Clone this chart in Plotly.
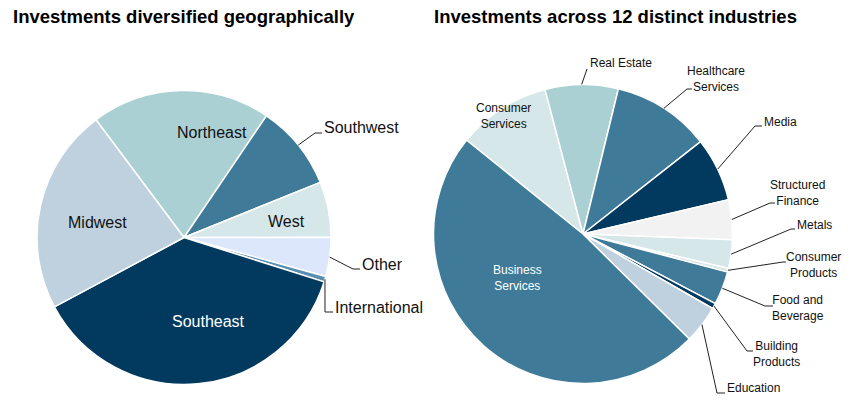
import math
import plotly.graph_objects as go

# ---------------- data ----------------
titles = ["Investments diversified geographically",
          "Investments across 12 distinct industries"]

# listed clockwise
geo_labels = ["Northeast", "Southwest", "West", "Other", "International",
              "Southeast", "Midwest"]
geo_values = [19.7, 9.4, 6.1, 4.3, 0.6, 37.3, 22.6]

ind_labels = ["Consumer Services", "Real Estate", "Healthcare Services",
              "Media", "Structured Finance", "Metals", "Consumer Products",
              "Food and Beverage", "Building Products", "Education",
              "Business Services"]
ind_values = [10.1, 7.9, 10.6, 6.9, 4.3, 3.1, 0.4, 3.6, 0.6, 4.1, 48.4]

# ---------------- styles ----------------
W, H = 852, 412
FONT = "Arial, Liberation Sans, sans-serif"
NAVY = "#023a5f"
BLUE = "#3f7a99"
TEAL = "#aad0d4"
PALE = "#d5e7e9"
GREYBLUE = "#bfd1de"
LAV = "#dde7fb"
MIDBLUE = "#5b8fb2"
GREY = "#f2f2f2"

geo_colors = [TEAL, BLUE, PALE, LAV, MIDBLUE, NAVY, GREYBLUE]
ind_colors = [PALE, TEAL, BLUE, NAVY, GREY, PALE, PALE, BLUE, NAVY,
              GREYBLUE, BLUE]

# pie geometry in pixels: center x, center y, radius, start angle (deg, math)
geo_geom = dict(cx=184, cy=237.5, r=147, start=126.8)
ind_geom = dict(cx=583, cy=234, r=149.5, start=141.1)

display = {
    "Healthcare Services": "Healthcare<br>Services",
    "Consumer Services": "Consumer<br>Services",
    "Business Services": "Business<br>Services",
    "Structured Finance": "Structured<br>Finance",
    "Consumer Products": "Consumer<br>Products",
    "Food and Beverage": "Food and<br>Beverage",
    "Building Products": "Building<br>Products",
}

# label styles: text position (px), anchor, colour, leader elbow/end (px)
geo_label_style = {
    "Northeast": dict(xy=(212, 132), xa="center", color="#111"),
    "Midwest": dict(xy=(97, 222), xa="center", color="#111"),
    "West": dict(xy=(286, 221), xa="center", color="#111"),
    "Southeast": dict(xy=(208, 321), xa="center", color="#ffffff"),
    "Southwest": dict(xy=(322, 128), xa="left", color="#111",
                      elbow=(315, 133), end=(322, 133)),
    "Other": dict(xy=(360, 264), xa="left", color="#111",
                  elbow=(353, 269), end=(360, 269)),
    "International": dict(xy=(333, 307), xa="left", color="#111",
                          elbow=(325, 312), end=(333, 312)),
}
ind_label_style = {
    "Business Services": dict(xy=(517, 278), xa="center", color="#ffffff"),
    "Consumer Services": dict(xy=(503, 116), xa="center", color="#111"),
    "Real Estate": dict(xy=(588, 63), xa="left", color="#111",
                        elbow=(587, 69), end=(587, 69)),
    "Healthcare Services": dict(xy=(716, 79), xa="center", color="#111",
                                elbow=(687, 89), end=(692, 89)),
    "Media": dict(xy=(762, 122), xa="left", color="#111",
                  elbow=(755, 126), end=(762, 126)),
    "Structured Finance": dict(xy=(797, 193), xa="center", color="#111",
                               elbow=(770, 203), end=(775, 203)),
    "Metals": dict(xy=(795, 225), xa="left", color="#111",
                   elbow=(791, 229), end=(795, 229)),
    "Consumer Products": dict(xy=(813, 265), xa="center", color="#111",
                              elbow=(783, 262), end=(786, 262)),
    "Food and Beverage": dict(xy=(798, 308), xa="center", color="#111",
                              elbow=(765, 306), end=(773, 306)),
    "Building Products": dict(xy=(776, 354), xa="center", color="#111",
                              elbow=(747, 351), end=(753, 351)),
    "Education": dict(xy=(725, 388), xa="left", color="#111",
                      elbow=(717, 393), end=(725, 393)),
}


def px(x):
    return x / W


def py(y):
    return 1 - y / H


def domain(g):
    return dict(x=[px(g["cx"] - g["r"]), px(g["cx"] + g["r"])],
                y=[py(g["cy"] + g["r"]), py(g["cy"] - g["r"])])


def pie(labels, values, colors, g):
    return go.Pie(labels=labels, values=values, sort=False,
                  direction="clockwise", rotation=90 - g["start"],
                  marker=dict(colors=colors, line=dict(color="white", width=1.5)),
                  textinfo="none", hoverinfo="label+value", showlegend=False,
                  domain=domain(g))


fig = go.Figure()
fig.add_trace(pie(geo_labels, geo_values, geo_colors, geo_geom))
fig.add_trace(pie(ind_labels, ind_values, ind_colors, ind_geom))

annotations = []
shapes = []


def add_labels(labels, values, g, styles, size):
    total = sum(values)
    cum = 0.0
    for lab, v in zip(labels, values):
        mid = g["start"] - 360.0 * (cum + v / 2.0) / total
        cum += v
        st = styles[lab]
        annotations.append(dict(
            x=px(st["xy"][0]), y=py(st["xy"][1]), xref="paper", yref="paper",
            text=display.get(lab, lab), showarrow=False,
            xanchor=st["xa"], yanchor="middle", align="center",
            font=dict(family=FONT, size=size, color=st["color"])))
        if "elbow" in st:
            a = math.radians(mid)
            sx = g["cx"] + g["r"] * math.cos(a)
            sy = g["cy"] - g["r"] * math.sin(a)
            ex, ey = st["elbow"]
            fx, fy = st["end"]
            path = "M {} {} L {} {} L {} {}".format(
                px(sx), py(sy), px(ex), py(ey), px(fx), py(fy))
            shapes.append(dict(type="path", path=path, xref="paper",
                               yref="paper",
                               line=dict(color="#222", width=1)))


add_labels(geo_labels, geo_values, geo_geom, geo_label_style, 16)
add_labels(ind_labels, ind_values, ind_geom, ind_label_style, 12)

for t, x0 in zip(titles, [11, 432]):
    annotations.append(dict(
        x=px(x0), y=py(17), xref="paper", yref="paper", text="<b>" + t + "</b>",
        showarrow=False, xanchor="left", yanchor="middle",
        font=dict(family=FONT, size=18.5, color="#000")))

fig.update_layout(
    width=W, height=H, margin=dict(l=0, r=0, t=0, b=0),
    paper_bgcolor="white", plot_bgcolor="white",
    annotations=annotations, shapes=shapes,
)

fig.write_html("out.html", config={"displayModeBar": False},
               post_script="document.body.style.margin='0';")
